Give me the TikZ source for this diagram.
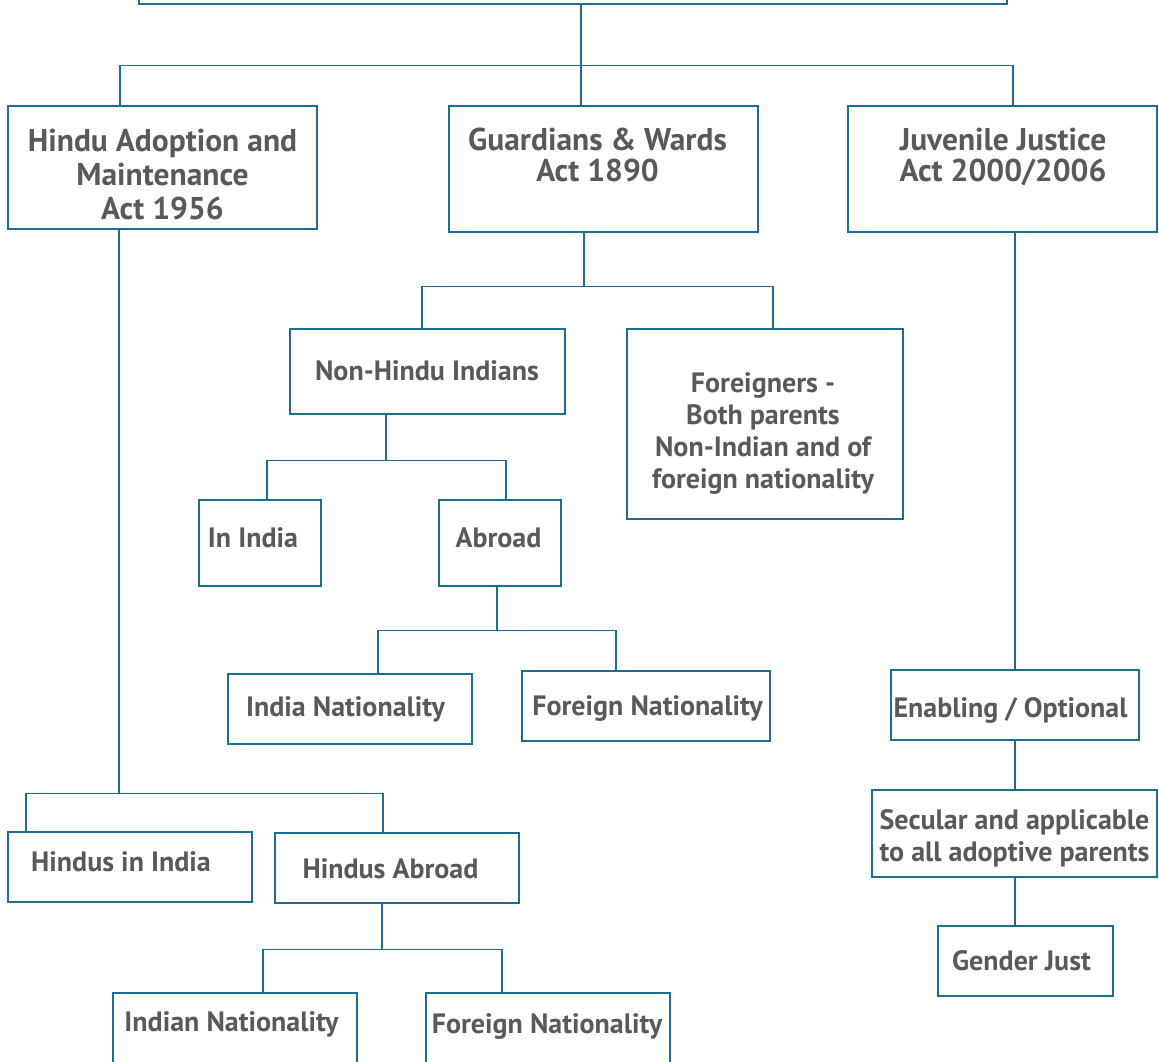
\documentclass[tikz,border=0pt]{standalone}
\usepackage{fontspec}
\setmainfont{PT Sans}
\definecolor{linkblue}{RGB}{28,108,148}
\definecolor{textgrey}{RGB}{88,89,91}

\begin{document}
\begin{tikzpicture}[x=1pt,y=-1pt,
  box/.style={draw=linkblue,line width=1.2pt,rectangle,inner sep=0pt},
  link/.style={draw=linkblue,line width=1.2pt},
  txt/.style={text=textgrey,font=\bfseries\fontsize{28}{32}\selectfont,align=center,anchor=base,inner sep=0pt},
  big/.style={font=\bfseries\fontsize{31.5}{32}\selectfont}]
\useasboundingbox (0,0) rectangle (1159,1062);
\clip (0,0) rectangle (1159,1062);
% boxes
\node (top) at (573,-13) [box,minimum width=868,minimum height=34] {};
\node (hindu) at (162.5,167.5) [box,minimum width=309,minimum height=123] {};
\node (guard) at (603.5,169) [box,minimum width=309,minimum height=126] {};
\node (juv) at (1002.5,169) [box,minimum width=309,minimum height=126] {};
\node (nonhindu) at (427.5,371.5) [box,minimum width=275,minimum height=85] {};
\node (foreign) at (765,424) [box,minimum width=276,minimum height=190] {};
\node (inindia) at (260,543) [box,minimum width=122,minimum height=86] {};
\node (abroad) at (500,543) [box,minimum width=122,minimum height=86] {};
\node (indnat) at (350,709) [box,minimum width=244,minimum height=70] {};
\node (fornat) at (646,706) [box,minimum width=248,minimum height=70] {};
\node (enabling) at (1015,705) [box,minimum width=248,minimum height=70] {};
\node (secular) at (1014.5,833.5) [box,minimum width=285,minimum height=87] {};
\node (gender) at (1025.5,961) [box,minimum width=175,minimum height=70] {};
\node (hinduin) at (130,867) [box,minimum width=244,minimum height=70] {};
\node (hinduab) at (397,868) [box,minimum width=244,minimum height=70] {};
\node (hindnat) at (235,1033) [box,minimum width=244,minimum height=80] {};
\node (hfornat) at (548,1033) [box,minimum width=244,minimum height=80] {};
% texts (base = last line)
\node (hindu-t) at (162.5,219) [txt,big,font=\bfseries\fontsize{31.5}{34}\selectfont] {Hindu Adoption and\\Maintenance\\Act 1956};
\node (guard-t) at (597.5,182) [txt,big] {Guardians \& Wards\\Act 1890};
\node (juv-t) at (1003,182) [txt,big] {Juvenile Justice\\Act 2000/2006};
\node (nonhindu-t) at (427,380) [txt] {Non-Hindu Indians};
\node (foreign-t) at (763,488) [txt] {Foreigners -\\Both parents\\Non-Indian and of\\foreign nationality};
\node (inindia-t) at (253,547) [txt] {In India};
\node (abroad-t) at (498.5,547) [txt] {Abroad};
\node (indnat-t) at (345.5,716) [txt] {India Nationality};
\node (fornat-t) at (647.5,715) [txt] {Foreign Nationality};
\node (enabling-t) at (1010.5,717) [txt] {Enabling / Optional};
\node (secular-t) at (1014.5,861) [txt] {Secular and applicable\\to all adoptive parents};
\node (gender-t) at (1021.5,970) [txt] {Gender Just};
\node (hinduin-t) at (121,871) [txt] {Hindus in India};
\node (hinduab-t) at (390.5,878) [txt] {Hindus Abroad};
\node (hindnat-t) at (231.5,1031) [txt] {Indian Nationality};
\node (hfornat-t) at (547,1033) [txt] {Foreign Nationality};
% connectors
\draw[link] (top.south -| 581,0) -- ++(0,61) coordinate (t1);
\draw[link] (hindu.north -| 120,0) |- (t1) -| (juv.north -| 1013,0);
\draw[link] (t1) -- (guard.north -| t1);
\draw[link] (guard.south -| 584,0) -- ++(0,54) coordinate (g1);
\draw[link] (nonhindu.north -| 422,0) |- (g1) -| (foreign.north -| 773,0);
\draw[link] (nonhindu.south -| 386,0) -- ++(0,46) coordinate (n1);
\draw[link] (inindia.north -| 267,0) |- (n1) -| (abroad.north -| 506,0);
\draw[link] (abroad.south -| 497,0) -- ++(0,44) coordinate (a1);
\draw[link] (indnat.north -| 378,0) |- (a1) -| (fornat.north -| 616,0);
\draw[link] (hindu.south -| 119,0) -- ++(0,564) coordinate (h1);
\draw[link] (hinduin.north -| 26,0) |- (h1) -| (hinduab.north -| 383,0);
\draw[link] (hinduab.south -| 382,0) -- ++(0,46) coordinate (b1);
\draw[link] (hindnat.north -| 263,0) |- (b1) -| (hfornat.north -| 502,0);
\draw[link] (juv.south -| 1015,0) -- (enabling.north -| 1015,0);
\draw[link] (enabling.south -| 1015,0) -- (secular.north -| 1015,0);
\draw[link] (secular.south -| 1015,0) -- (gender.north -| 1015,0);
\end{tikzpicture}
\end{document}
